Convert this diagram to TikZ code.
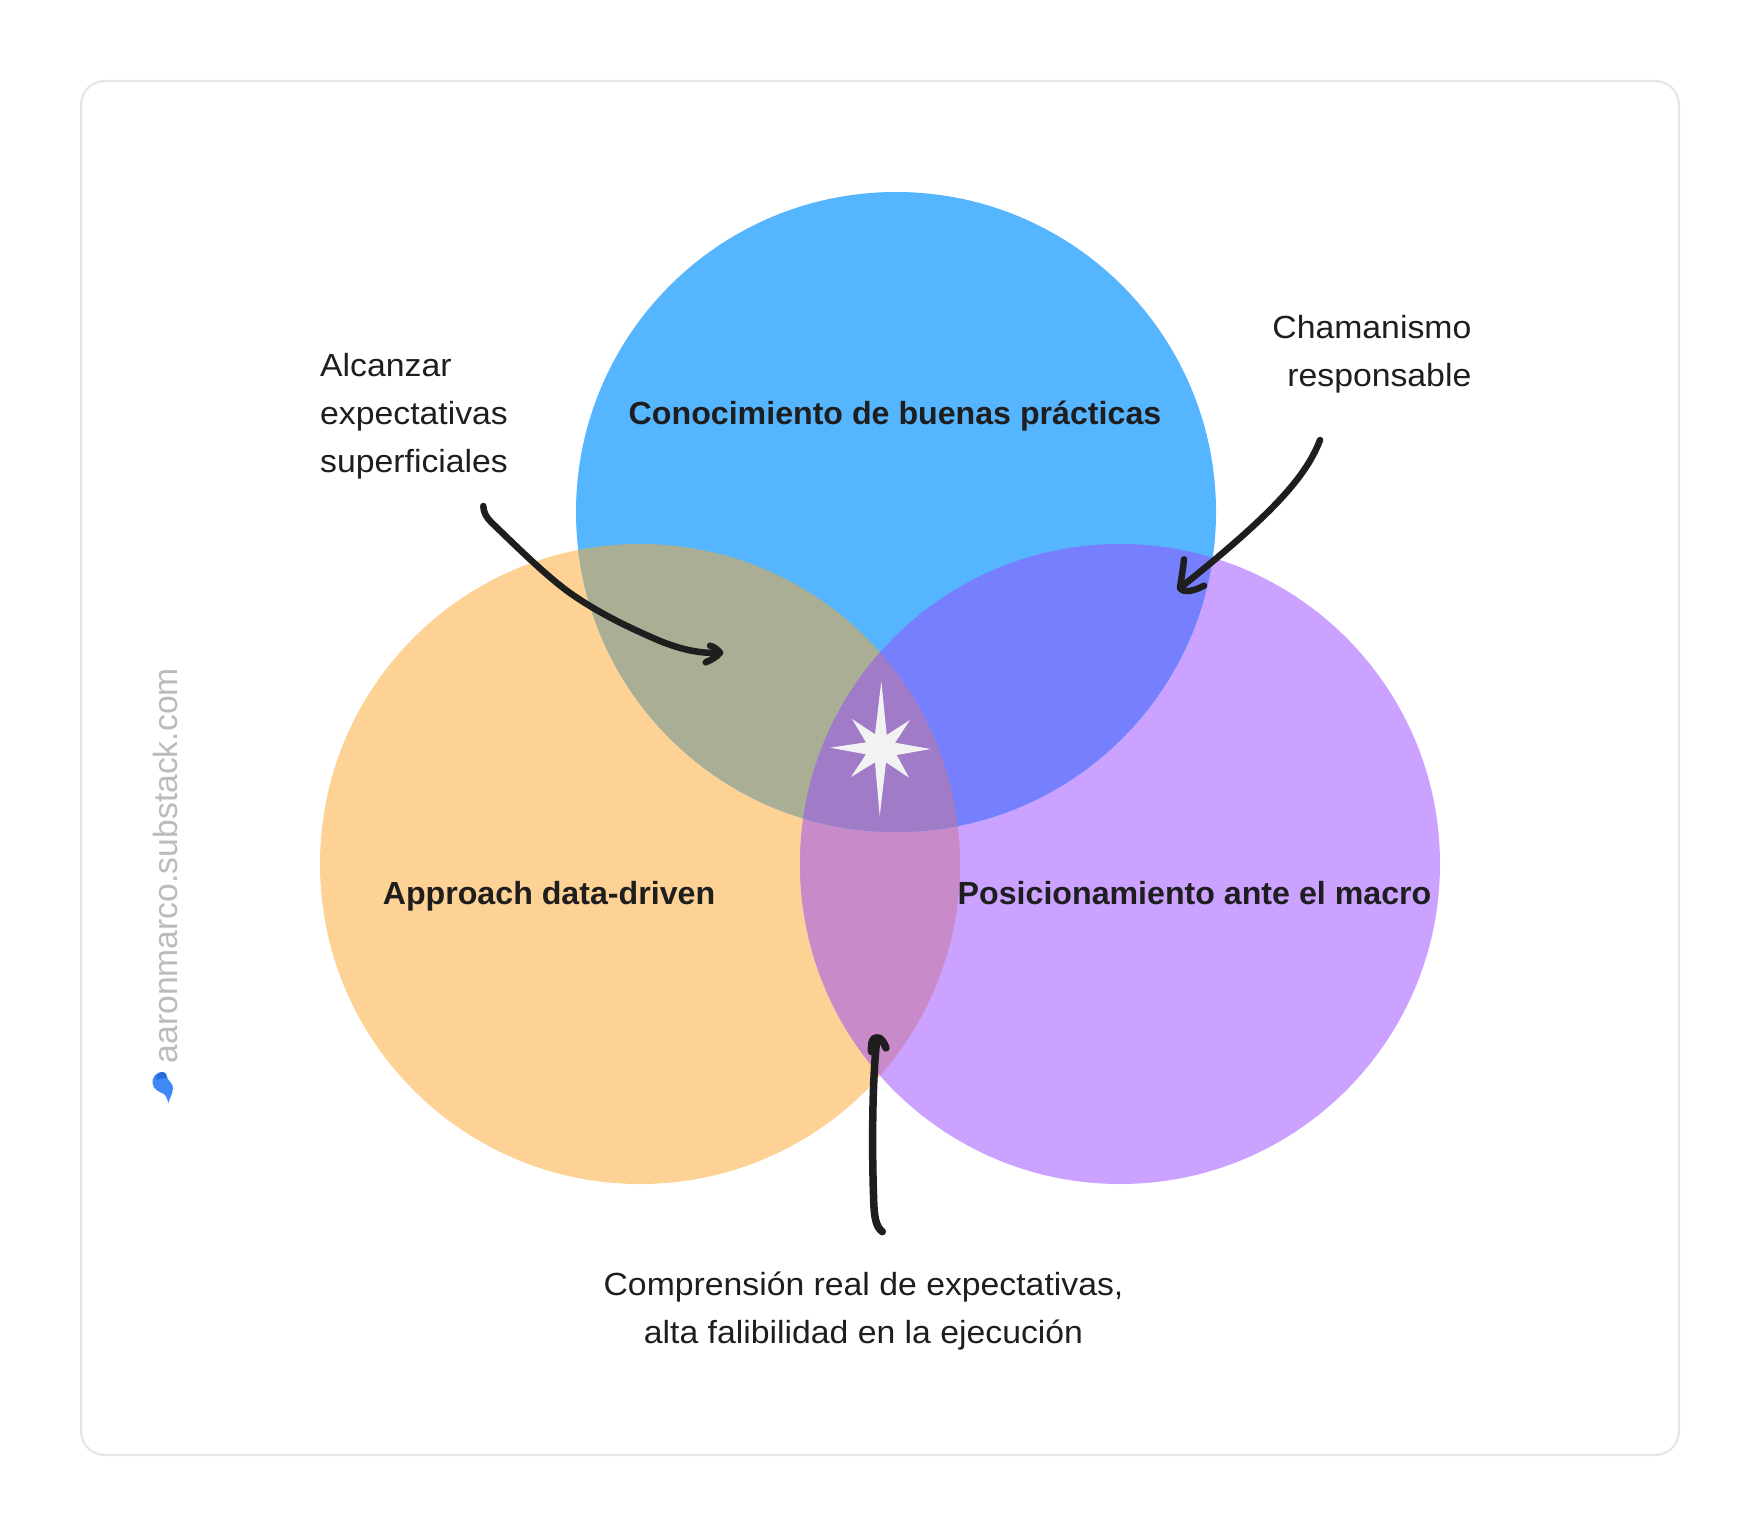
\documentclass[tikz,border=0pt]{standalone}
\usepackage{fontspec}
\setmainfont{Liberation Sans}
\newfontfamily\uifont[FakeStretch=1.055]{Liberation Sans}
\newfontfamily\uibold[FakeStretch=1.005]{Liberation Sans Bold}
\definecolor{cblue}{HTML}{55B5FF}
\definecolor{corange}{HTML}{FED294}
\definecolor{cpurple}{HTML}{CBA2FF}
\definecolor{cob}{HTML}{A9AE94}
\definecolor{cbp}{HTML}{7680FF}
\definecolor{cop}{HTML}{C88AC8}
\definecolor{call}{HTML}{A07CC8}
\definecolor{cink}{HTML}{1E1E1E}
\definecolor{cmark}{HTML}{BBBBBB}
\definecolor{cborder}{HTML}{E5E5E5}
\definecolor{cstar}{HTML}{F2F2F2}
\definecolor{cleaf}{HTML}{3F88F5}
\definecolor{cleafd}{HTML}{2A6CD8}
\tikzset{
  note/.style={inner sep=0pt,text=cink,font=\uifont\fontsize{32}{48}\selectfont},
  title/.style={inner sep=0pt,text=cink,font=\uibold\fontsize{32}{48}\selectfont},
  stroke/.style={draw=cink,line width=6.5pt,line cap=round,line join=round},
  strokeb/.style={draw=cink,line width=7.5pt,line cap=round,line join=round}
}
\def\cB{(896,512) circle (320)}
\def\cO{(640,864) circle (320)}
\def\cP{(1120,864) circle (320)}
\begin{document}
\begin{tikzpicture}[x=1pt,y=-1pt]
\useasboundingbox (0,0) rectangle (1760,1536);
\fill[white] (0,0) rectangle (1760,1536);
\draw[cborder,line width=2pt,rounded corners=24pt,fill=white] (81,81) rectangle (1679,1455);
% circles
\fill[corange] \cO;
\fill[cpurple] \cP;
\fill[cblue] \cB;
\begin{scope}\clip \cO; \fill[cop] \cP; \end{scope}
\begin{scope}\clip \cB; \fill[cob] \cO; \end{scope}
\begin{scope}\clip \cB; \fill[cbp] \cP; \end{scope}
\begin{scope}\clip \cB; \clip \cO; \fill[call] \cP; \end{scope}
% star
\fill[cstar] (881.3,681) -- (886.7,735) -- (910,720) -- (895,742.7) -- (930.7,749) -- (896.7,755) -- (909,777.7) -- (886,762.3) -- (879.7,816) -- (875,762.3) -- (851,777) -- (866,754.3) -- (830,747.7) -- (866,742.3) -- (852,719) -- (875,734.3) -- cycle;
% labels
\node[title] (tblue) at (895,416) {Conocimiento de buenas prácticas};
\node[title] (torange) at (549,896) {Approach data-driven};
\node[title] (tpurple) at (1194.5,893) {Posicionamiento ante el macro};
\node[note,align=left,anchor=west] (tleft) at (320,416.5) {Alcanzar\\expectativas\\superficiales};
\node[note,align=right,anchor=east] (tright) at (1471.5,354.5) {Chamanismo\\responsable};
\node[note,align=center] (tbottom) at (863.5,1311.5) {Comprensión real de expectativas,\\alta falibilidad en la ejecución};
% watermark
\node[inner sep=0pt,rotate=90,text=cmark,anchor=west,font=\fontsize{33.7}{40}\selectfont] (mark) at (165.5,1063.5) {aaronmarco.substack.com};
\fill[cleaf] (163,1072) .. controls (155,1072) and (152,1078) .. (152.5,1083) .. controls (153,1090) and (160,1092) .. (164,1094) .. controls (167,1097) and (167.5,1100) .. (168.5,1103) .. controls (169,1099) and (173,1094) .. (173,1088) .. controls (173,1083) and (168,1081) .. (167,1077) .. controls (166.5,1074) and (165,1072) .. (163,1072) -- cycle;
\fill[cleafd] (163,1072) .. controls (158,1072) and (156,1076) .. (156,1080) .. controls (160,1078) and (166,1079) .. (167,1077) .. controls (166.5,1074) and (165,1072) .. (163,1072) -- cycle;
% arrows
\coordinate (a1s) at (483.3,506);
\coordinate (a1e) at (720,652.7);
\draw[stroke] (a1s) .. controls (483.5,512) and (486,517) .. (491,522) .. controls (515,545) and (545,575) .. (570,593) .. controls (600,614) and (630,628) .. (660,641) .. controls (680,649) and (700,654) .. (a1e);
\draw[stroke] (710,645.7) .. controls (714,646.5) and (718,650) .. (a1e) .. controls (717,657) and (711,660) .. (705.7,662.3);
\coordinate (a2s) at (1320,440);
\coordinate (a2e) at (1180,588);
\draw[stroke] (a2s) .. controls (1305,480) and (1265,520) .. (a2e);
\draw[stroke] (1184,559.3) .. controls (1183,570) and (1181,580) .. (a2e) .. controls (1184,594) and (1196,590) .. (1204,585.7);
\coordinate (a3s) at (882.3,1231.7);
\coordinate (a3e) at (877,1038);
\draw[strokeb] (a3s) .. controls (875,1226) and (874,1215) .. (873.5,1195) .. controls (872,1150) and (872,1080) .. (a3e);
\draw[strokeb] (871.5,1051.7) .. controls (871,1042) and (873,1037) .. (a3e) .. controls (881,1037) and (884,1043) .. (886,1048);
\end{tikzpicture}
\end{document}
